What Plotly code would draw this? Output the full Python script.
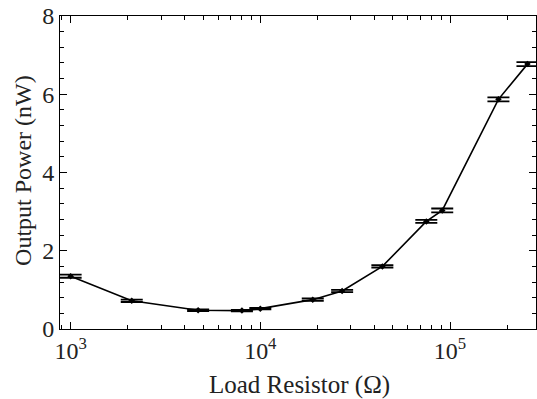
import plotly.graph_objects as go
import numpy as np

resistance = [1000, 2100, 4700, 8000, 10000, 18900, 27000, 44000, 75000, 91000, 180000, 256000]
power = [1.35, 0.72, 0.48, 0.47, 0.52, 0.75, 0.97, 1.60, 2.75, 3.03, 5.87, 6.77]
power_err = [0.04, 0.03, 0.02, 0.02, 0.02, 0.03, 0.03, 0.03, 0.04, 0.05, 0.05, 0.05]

x_major = [1e3, 1e4, 1e5]
x_major_text = ["10<sup>3</sup>", "10<sup>4</sup>", "10<sup>5</sup>"]
x_minor = [m * 10**d for d in range(2, 6) for m in range(2, 10)]
y_major = [0, 2, 4, 6, 8]
y_minor = [0.4 * i for i in range(21)]

x_title = "Load Resistor (Ω)"
y_title = "Output Power (nW)"

font = "Liberation Serif"

fig = go.Figure()
fig.add_trace(go.Scatter(
    x=resistance, y=power, mode="lines+markers",
    line=dict(color="black", width=1.6),
    marker=dict(symbol="diamond", size=5, color="black"),
    error_y=dict(type="data", array=power_err, visible=True, color="black", thickness=1.8, width=11),
    showlegend=False,
))

fig.update_layout(
    width=537, height=399,
    margin=dict(l=60, r=1, t=16, b=70),
    paper_bgcolor="white", plot_bgcolor="white",
    font=dict(family=font, size=24, color="#222"),
    xaxis=dict(
        type="log", range=[np.log10(879), np.log10(284000)],
        tickmode="array", tickvals=x_major, ticktext=x_major_text,
        ticks="inside", ticklen=7, tickwidth=1, tickcolor="black",
        minor=dict(tickmode="array", tickvals=x_minor, ticks="inside", ticklen=4, tickcolor="black", showgrid=False),
        showline=True, linecolor="black", linewidth=1, mirror="ticks",
        showgrid=False, zeroline=False,
    ),
    yaxis=dict(
        range=[0, 8], tickmode="array", tickvals=y_major,
        ticks="inside", ticklen=7, tickwidth=1, tickcolor="black",
        minor=dict(tickmode="array", tickvals=y_minor, ticks="inside", ticklen=4, tickcolor="black", showgrid=False),
        showline=True, linecolor="black", linewidth=1, mirror="ticks",
        showgrid=False, zeroline=False,
    ),
    annotations=[
        dict(text=x_title, xref="paper", yref="paper", x=0.503, y=-0.179,
             xanchor="center", yanchor="middle", showarrow=False, font=dict(size=25)),
        dict(text=y_title, xref="paper", yref="paper", x=-0.0777, y=0.505, textangle=-90,
             xanchor="center", yanchor="middle", showarrow=False, font=dict(size=24)),
    ],
)

fig.write_html("out.html")
